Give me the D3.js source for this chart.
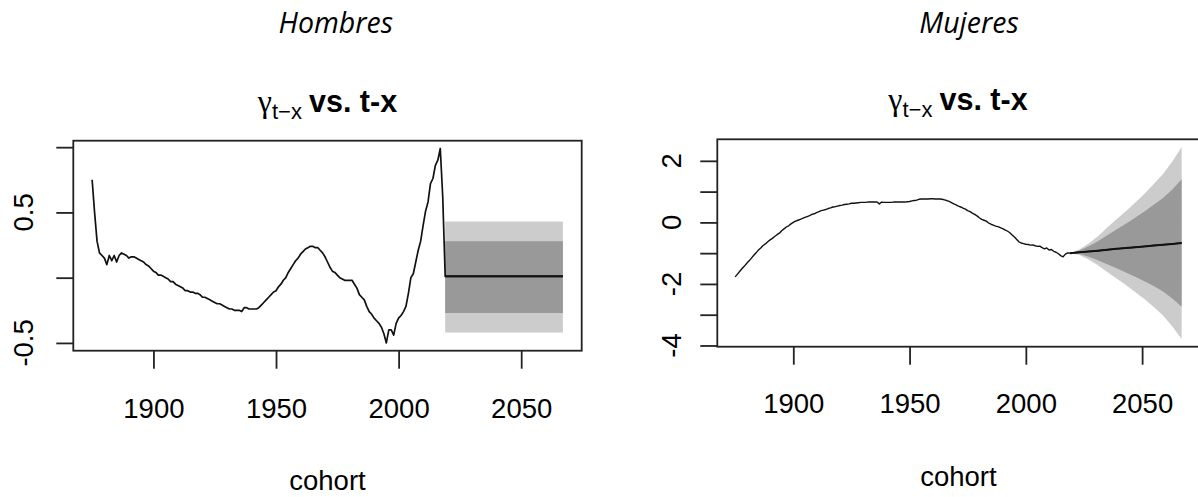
<!DOCTYPE html>
<html>
<head>
<meta charset="utf-8">
<script src="https://cdn.jsdelivr.net/npm/d3@7"></script>
<style>
  html, body { margin: 0; padding: 0; background: #fff; }
  svg { display: block; }
</style>
</head>
<body>
<svg id="chart" width="1198" height="497"></svg>
<script>
// Cohort effect gamma(t-x): fitted values by birth cohort and forecast fans

const firstCohort = 1875;

// Men: fitted cohort effect, one value per cohort from 1875 to 2018
const menGamma = [
  0.75, 0.50, 0.28, 0.19, 0.17, 0.15, 0.10, 0.17, 0.13, 0.17,
  0.12, 0.17, 0.19, 0.18, 0.17, 0.15, 0.16, 0.16, 0.15, 0.14,
  0.13, 0.12, 0.10, 0.09, 0.07, 0.05, 0.04, 0.02, 0.02, 0.01,
  0.00, -0.01, -0.03, -0.03, -0.05, -0.06, -0.07, -0.08, -0.10, -0.10,
  -0.11, -0.11, -0.12, -0.12, -0.13, -0.15, -0.15, -0.16, -0.17, -0.18,
  -0.19, -0.20, -0.20, -0.21, -0.22, -0.23, -0.24, -0.24, -0.25, -0.25,
  -0.25, -0.26, -0.23, -0.23, -0.24, -0.24, -0.24, -0.24, -0.23, -0.21,
  -0.19, -0.17, -0.15, -0.13, -0.11, -0.10, -0.07, -0.05, -0.02, 0.00,
  0.04, 0.07, 0.10, 0.13, 0.15, 0.18, 0.20, 0.22, 0.23, 0.24,
  0.24, 0.23, 0.23, 0.21, 0.19, 0.16, 0.12, 0.08, 0.05, 0.04,
  0.02, 0.00, -0.01, -0.02, -0.02, -0.02, -0.02, -0.05, -0.08, -0.13,
  -0.15, -0.17, -0.22, -0.26, -0.28, -0.31, -0.33, -0.35, -0.38, -0.43,
  -0.50, -0.40, -0.40, -0.44, -0.35, -0.31, -0.29, -0.26, -0.22, -0.12,
  0.00, 0.03, 0.12, 0.21, 0.28, 0.40, 0.51, 0.58, 0.72, 0.76,
  0.86, 0.90, 0.99, 0.62
];

// Women: fitted cohort effect, one value per cohort from 1875 to 2018
const womenGamma = [
  -1.77, -1.68, -1.59, -1.50, -1.42, -1.33, -1.25, -1.16, -1.07, -0.99,
  -0.90, -0.83, -0.75, -0.70, -0.63, -0.57, -0.52, -0.46, -0.40, -0.35,
  -0.27, -0.21, -0.15, -0.11, -0.05, 0.00, 0.04, 0.07, 0.10, 0.13,
  0.16, 0.19, 0.22, 0.26, 0.28, 0.32, 0.35, 0.38, 0.40, 0.42,
  0.45, 0.47, 0.50, 0.51, 0.53, 0.55, 0.56, 0.58, 0.59, 0.60,
  0.62, 0.62, 0.63, 0.64, 0.65, 0.65, 0.65, 0.66, 0.66, 0.66,
  0.66, 0.66, 0.60, 0.66, 0.65, 0.65, 0.65, 0.65, 0.66, 0.66,
  0.66, 0.66, 0.66, 0.66, 0.67, 0.68, 0.70, 0.71, 0.72, 0.75,
  0.76, 0.76, 0.76, 0.76, 0.77, 0.77, 0.76, 0.76, 0.76, 0.75,
  0.73, 0.71, 0.68, 0.64, 0.60, 0.57, 0.53, 0.50, 0.46, 0.43,
  0.38, 0.35, 0.30, 0.26, 0.21, 0.15, 0.10, 0.07, 0.04, -0.02,
  -0.06, -0.09, -0.12, -0.14, -0.17, -0.20, -0.24, -0.28, -0.33, -0.40,
  -0.47, -0.55, -0.63, -0.67, -0.69, -0.71, -0.72, -0.74, -0.73, -0.76,
  -0.78, -0.77, -0.82, -0.86, -0.83, -0.90, -0.88, -0.94, -0.97, -1.02,
  -1.08, -1.12, -1.03, -0.99
];

// Men: forecast (constant central value and 80% / 95% bands)
const menFanYears = [2019, 2067];
const menMedian   = [0.01, 0.01];
const menLo95     = [-0.42, -0.42];
const menHi95     = [0.43, 0.43];
const menLo80     = [-0.27, -0.27];
const menHi80     = [0.28, 0.28];

// Women: forecast central path and widening 80% / 95% bands
const womenFanYears = [2019, 2023, 2027, 2031, 2035, 2039, 2043, 2047, 2051, 2055, 2059, 2063, 2067];
const womenMedian   = [-1.00, -0.97, -0.945, -0.92, -0.89, -0.86, -0.835, -0.81, -0.78, -0.75, -0.725, -0.70, -0.67];
const womenHi95     = [-1.00, -0.88, -0.685, -0.45, -0.17, 0.10, 0.365, 0.64, 0.93, 1.25, 1.575, 1.98, 2.45];
const womenLo95     = [-1.00, -1.06, -1.205, -1.39, -1.61, -1.82, -2.035, -2.26, -2.49, -2.75, -3.025, -3.38, -3.79];
const womenHi80     = [-1.00, -0.91, -0.775, -0.61, -0.42, -0.23, -0.045, 0.15, 0.35, 0.57, 0.795, 1.07, 1.40];
const womenLo80     = [-1.00, -1.03, -1.115, -1.23, -1.36, -1.49, -1.625, -1.77, -1.91, -2.07, -2.245, -2.47, -2.74];

// Axis ticks
const xTickValues = [1900, 1950, 2000, 2050];
const menYTickValues = [-0.5, 0, 0.5, 1.0];
const menYLabelValues = [-0.5, 0.5];
const womenYTickValues = [-4, -3, -2, -1, 0, 1, 2];
const womenYLabelValues = [-4, -2, 0, 2];

const headers = ["Hombres", "Mujeres"];
const xAxisTitle = "cohort";

const svg = d3.select("#chart");
svg.append("rect").attr("width", 1198).attr("height", 497).attr("fill", "#fff");

const sansFont = "'Liberation Sans', Arial, sans-serif";
const labelSize = 27.5;

function drawPanel(cfg) {
  const hist = cfg.gamma.map((v, i) => ({ year: firstCohort + i, v }));
  const fan = cfg.fanYears.map((year, i) => ({
    year, m: cfg.median[i], lo95: cfg.lo95[i], hi95: cfg.hi95[i], lo80: cfg.lo80[i], hi80: cfg.hi80[i]
  }));
  const allYears = hist.map(d => d.year).concat(fan.map(d => d.year));
  const allVals = cfg.gamma.concat(cfg.lo95, cfg.hi95);

  // R-style 4% padding of the data range
  const [xa, xb] = d3.extent(allYears);
  const [ya, yb] = d3.extent(allVals);
  const xp = (xb - xa) * 0.04, yp = (yb - ya) * 0.04;

  const b = cfg.box;
  const x = d3.scaleLinear().domain([xa - xp, xb + xp]).range([b.x0, b.x1]);
  const y = d3.scaleLinear().domain([ya - yp, yb + yp]).range([b.y1, b.y0]);

  const g = svg.append("g");

  // section header (document caption)
  g.append("text")
    .attr("x", cfg.headerX).attr("y", 33)
    .attr("text-anchor", "middle")
    .attr("font-family", "'Open Sans', sans-serif")
    .attr("font-style", "italic")
    .attr("font-size", 28.5)
    .attr("fill", "#000")
    .text(cfg.header);

  // plot title: gamma_{t-x} vs. t-x
  const title = g.append("text")
    .attr("x", cfg.titleX).attr("y", cfg.titleY)
    .attr("text-anchor", "middle")
    .attr("fill", "#000");
  title.append("tspan")
    .attr("font-family", "'Liberation Serif', serif")
    .attr("font-size", 32)
    .text("γ");
  title.append("tspan")
    .attr("font-family", sansFont)
    .attr("font-size", 22)
    .attr("dy", 7)
    .text("t\u2212x");
  title.append("tspan")
    .attr("font-family", sansFont)
    .attr("font-size", 30.5)
    .attr("font-weight", "bold")
    .attr("dy", -7)
    .attr("dx", 7)
    .text("vs. t-x");

  // fan: 95% band then 80% band
  const clipId = "clip-" + cfg.id;
  g.append("clipPath").attr("id", clipId)
    .append("rect").attr("x", b.x0).attr("y", b.y0).attr("width", b.x1 - b.x0).attr("height", b.y1 - b.y0);
  const plot = g.append("g").attr("clip-path", `url(#${clipId})`);

  plot.append("path")
    .datum(fan)
    .attr("fill", "#cccccc")
    .attr("d", d3.area().x(d => x(d.year)).y0(d => y(d.lo95)).y1(d => y(d.hi95)));
  plot.append("path")
    .datum(fan)
    .attr("fill", "#999999")
    .attr("d", d3.area().x(d => x(d.year)).y0(d => y(d.lo80)).y1(d => y(d.hi80)));

  // fitted history joined to the central forecast
  const path = hist.concat(fan.map(d => ({ year: d.year, v: d.m })));
  plot.append("path")
    .datum(path)
    .attr("fill", "none")
    .attr("stroke", "#111")
    .attr("stroke-width", cfg.lineWidth)
    .attr("stroke-linejoin", "round")
    .attr("d", d3.line().x(d => x(d.year)).y(d => y(d.v)));

  plot.append("path")
    .datum(fan)
    .attr("fill", "none")
    .attr("stroke", "#111")
    .attr("stroke-width", 2)
    .attr("d", d3.line().x(d => x(d.year)).y(d => y(d.m)));

  // plot frame
  g.append("rect")
    .attr("x", b.x0).attr("y", b.y0)
    .attr("width", b.x1 - b.x0).attr("height", b.y1 - b.y0)
    .attr("fill", "none").attr("stroke", "#222").attr("stroke-width", 1.8);

  // x axis
  const xAxis = d3.axisBottom(x).tickValues(xTickValues).tickSize(18).tickPadding(0).tickFormat(d3.format("d"));
  const gx = g.append("g").attr("transform", `translate(0,${b.y1})`).call(xAxis);
  gx.select(".domain").remove();
  gx.selectAll(".tick line").attr("stroke", "#222").attr("stroke-width", 1.8);
  gx.selectAll(".tick text")
    .attr("font-family", sansFont).attr("font-size", labelSize).attr("fill", "#000")
    .attr("dy", null).attr("y", cfg.xLabelY - b.y1);

  // y axis
  const yAxis = d3.axisLeft(y).tickValues(cfg.yTicks).tickSize(17).tickFormat("");
  const gy = g.append("g").attr("transform", `translate(${b.x0},0)`).call(yAxis);
  gy.select(".domain").remove();
  gy.selectAll(".tick line").attr("stroke", "#222").attr("stroke-width", 1.8);

  g.selectAll(".ylab")
    .data(cfg.yLabels)
    .enter().append("text")
    .attr("class", "ylab")
    .attr("transform", d => `translate(${cfg.yLabelX},${y(d)}) rotate(-90)`)
    .attr("text-anchor", "middle")
    .attr("font-family", sansFont).attr("font-size", labelSize).attr("fill", "#000")
    .text(d => cfg.fmt(d));

  // x axis title
  g.append("text")
    .attr("x", (b.x0 + b.x1) / 2)
    .attr("y", cfg.xTitleY)
    .attr("text-anchor", "middle")
    .attr("font-family", sansFont).attr("font-size", labelSize).attr("fill", "#000")
    .text(xAxisTitle);
}

drawPanel({
  id: "m",
  header: headers[0], headerX: 335.8,
  titleX: 327.5, titleY: 111.7,
  gamma: menGamma,
  fanYears: menFanYears, median: menMedian,
  lo95: menLo95, hi95: menHi95, lo80: menLo80, hi80: menHi80,
  box: { x0: 73.3, x1: 581.7, y0: 140.7, y1: 350.7 },
  yTicks: menYTickValues, yLabels: menYLabelValues,
  fmt: d => d.toFixed(1),
  yLabelX: 33, xLabelY: 418, xTitleY: 490, lineWidth: 1.7
});

drawPanel({
  id: "w",
  header: headers[1], headerX: 969,
  titleX: 958, titleY: 110,
  gamma: womenGamma,
  fanYears: womenFanYears, median: womenMedian,
  lo95: womenLo95, hi95: womenHi95, lo80: womenLo80, hi80: womenHi80,
  box: { x0: 717.3, x1: 1199.5, y0: 139.3, y1: 346.7 },
  yTicks: womenYTickValues, yLabels: womenYLabelValues,
  fmt: d => String(d),
  yLabelX: 681, xLabelY: 413, xTitleY: 486, lineWidth: 1.4
});
</script>
</body>
</html>
